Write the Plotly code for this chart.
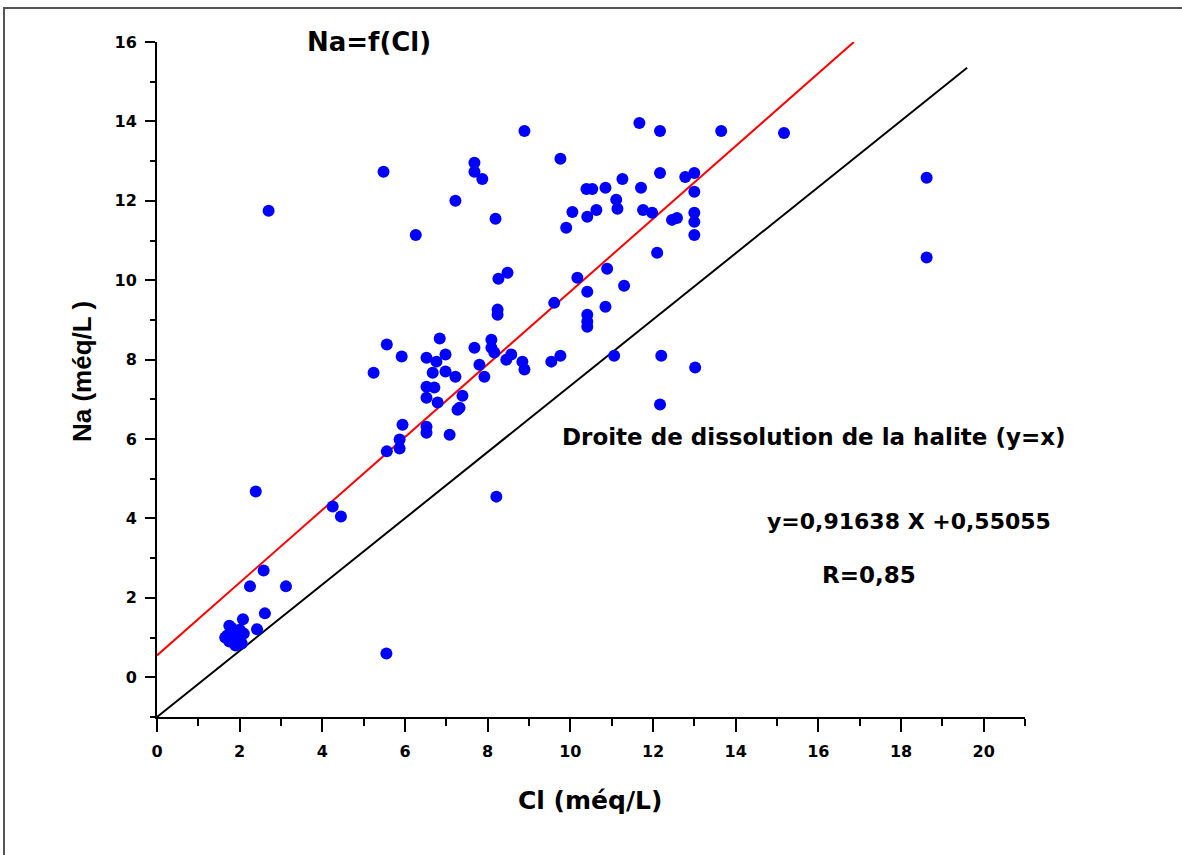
import plotly.graph_objects as go

# Data: Cl (x) and Na (y), méq/L
cl = [1.65, 1.75, 1.8, 1.8, 1.85, 1.9, 1.9, 1.95, 2.0, 2.0, 2.05, 1.75, 2.1, 1.7,
      2.08, 2.61, 2.42, 2.25, 3.12, 2.58, 2.39, 2.7,
      4.25, 4.45, 5.55,
      5.24, 5.56, 5.92, 6.84, 6.52, 6.98, 6.76, 6.67, 6.98, 7.22, 6.52, 6.71, 6.52, 6.79,
      7.39, 7.32, 7.27, 5.94, 6.52, 6.52, 7.08, 5.87, 5.87, 5.56,
      7.68, 8.09, 8.09, 8.16, 8.57, 8.45, 8.84, 8.89, 7.8, 7.92, 8.24, 8.24, 9.54, 9.61,
      9.76, 10.39, 10.53, 10.85, 11.26, 11.71, 12.17, 12.78, 13.0, 13.0, 11.11, 11.14,
      10.05, 10.41, 10.63, 9.9, 11.76, 11.98, 12.46, 12.58, 13.0, 13.0, 13.0, 12.1,
      10.89, 10.17, 10.41, 11.3, 10.85, 10.41, 10.41, 10.41,
      9.76, 11.06, 12.2, 13.02, 12.17, 8.21,
      5.48, 7.68, 7.68, 7.87, 7.22, 8.19, 6.26, 8.26, 8.48,
      8.89, 11.67, 12.17, 13.65, 15.17, 18.62, 18.62]
na = [1.0, 0.9, 1.1, 1.25, 0.95, 1.15, 0.8, 1.05, 1.0, 1.2, 0.85, 1.3, 1.1, 1.05,
      1.46, 1.61, 1.21, 2.29, 2.29, 2.69, 4.68, 11.75,
      4.3, 4.05, 0.6,
      7.67, 8.38, 8.08, 8.53, 8.05, 8.13, 7.95, 7.67, 7.7, 7.57, 7.32, 7.3, 7.04, 6.92,
      7.09, 6.79, 6.74, 6.36, 6.31, 6.16, 6.11, 5.99, 5.76, 5.69,
      8.3, 8.5, 8.3, 8.18, 8.13, 8.0, 7.95, 7.75, 7.87, 7.57, 9.26, 9.13, 7.95, 9.43,
      13.06, 12.3, 12.3, 12.33, 12.55, 12.33, 12.7, 12.6, 12.7, 12.23, 12.03, 11.8,
      11.72, 11.6, 11.77, 11.32, 11.77, 11.7, 11.52, 11.57, 11.7, 11.47, 11.14, 10.69,
      10.29, 10.06, 9.71, 9.86, 9.33, 9.13, 8.96, 8.83,
      8.1, 8.1, 8.1, 7.8, 6.87, 4.55,
      12.73, 12.96, 12.73, 12.55, 12.0, 11.55, 11.14, 10.04, 10.19,
      13.76, 13.96, 13.76, 13.76, 13.71, 12.58, 10.57]

# Regression line (red)
slope, intercept = 0.91638, 0.55055
fit_x = [0, 16.86]
fit_y = [slope * v + intercept for v in fit_x]

# "Droite de dissolution" line (black) as drawn in the reference
ref_x = [0, 19.6]
ref_y = [-1, 15.35]

x_ticks = [0, 2, 4, 6, 8, 10, 12, 14, 16, 18, 20]
y_ticks = [0, 2, 4, 6, 8, 10, 12, 14, 16]

W, H = 1182, 855
L, R, T, B = 157, 157, 42, 138
pw, ph = W - L - R, H - T - B

def px(x):
    return (x - L) / pw

def py(y):
    return (H - B - y) / ph

fig = go.Figure()
fig.add_trace(go.Scatter(x=ref_x, y=ref_y, mode="lines",
                         line=dict(color="black", width=2), hoverinfo="skip"))
fig.add_trace(go.Scatter(x=fit_x, y=fit_y, mode="lines",
                         line=dict(color="#ff0000", width=2), hoverinfo="skip"))
fig.add_trace(go.Scatter(x=cl, y=na, mode="markers",
                         marker=dict(color="#0000ff", size=12, line=dict(width=0))))

wide = "DejaVu Sans"
arial = "Liberation Sans"
axis_common = dict(showgrid=False, zeroline=False, showline=True, linecolor="black",
                   linewidth=2, ticks="outside", tickwidth=2, tickcolor="black",
                   tickfont=dict(family=wide, size=16, color="black", weight="bold"),
                   mirror=False)

fig.update_xaxes(range=[0, 21], tickvals=x_ticks, ticklen=13, ticklabelstandoff=6,
                 minor=dict(ticks="outside", ticklen=7, tickwidth=2, tickcolor="black", dtick=1),
                 **axis_common)
fig.update_yaxes(range=[-1, 16], tickvals=y_ticks, ticklen=10, ticklabelstandoff=5,
                 minor=dict(ticks="outside", ticklen=5, tickwidth=2, tickcolor="black", dtick=1),
                 **axis_common)

def note(text, x, y, size, family=wide, angle=0):
    return dict(text=text, x=px(x), y=py(y), xref="paper", yref="paper",
                xanchor="center", yanchor="middle", showarrow=False, textangle=angle,
                font=dict(size=size, family=family, color="black"))

fig.update_layout(
    width=W, height=H, showlegend=False,
    margin=dict(l=L, r=R, t=T, b=B),
    paper_bgcolor="white", plot_bgcolor="white",
    font=dict(family=wide, color="black"),
    annotations=[
        note("<b>Na=f(Cl)</b>", 369, 42, 26),
        note("<b>Cl (méq/L)</b>", 590, 800, 25),
        note("<b>Na (méq/L )</b>", 82, 372, 26, family=arial, angle=-90),
        note("<b>Droite de dissolution de la halite (y=x)</b>", 814, 437, 23),
        note("<b>y=0,91638 X +0,55055</b>", 909, 521, 22),
        note("<b>R=0,85</b>", 869, 575, 23),
    ],
    shapes=[
        dict(type="rect", xref="paper", yref="paper", x0=px(4), x1=px(1190),
             y0=py(8), y1=py(870), line=dict(color="#555555", width=2), layer="below"),
    ],
)

fig.write_html("out.html")
